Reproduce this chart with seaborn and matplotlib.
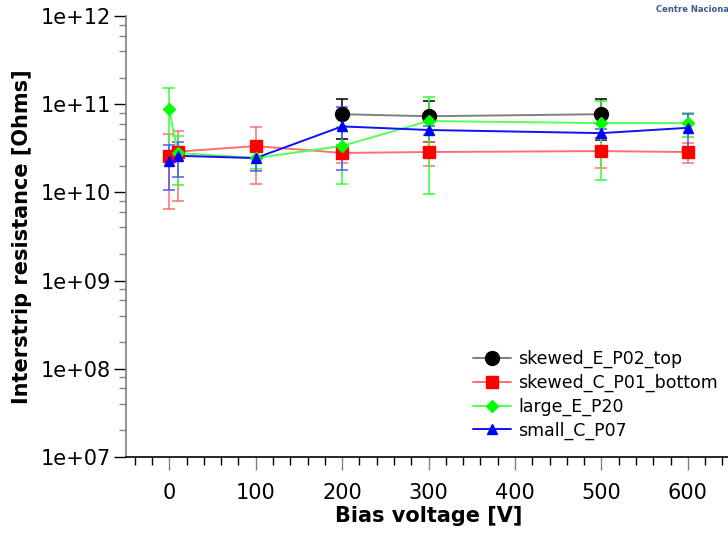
import numpy as np
import pandas as pd
import matplotlib
matplotlib.use("Agg")
import matplotlib.pyplot as plt
import matplotlib.ticker as mticker
import seaborn as sns

# ---- data ----
series_names = ["skewed_E_P02_top", "skewed_C_P01_bottom", "large_E_P20", "small_C_P07"]

black_x = [200, 300, 500]
black_y = [7.7e10, 7.3e10, 7.7e10]
black_err = [3.7e10, 3.6e10, 3.8e10]

red_x = [0, 10, 100, 200, 300, 500, 600]
red_y = [2.6e10, 2.9e10, 3.35e10, 2.8e10, 2.87e10, 2.94e10, 2.87e10]
red_err = [1.95e10, 2.1e10, 2.1e10, 0.65e10, 0.9e10, 1.05e10, 0.72e10]

green_x = [0, 10, 100, 200, 300, 500, 600]
green_y = [8.8e10, 2.8e10, 2.45e10, 3.36e10, 6.45e10, 6.1e10, 6.1e10]
green_err = [6.5e10, 1.6e10, 0.6e10, 2.1e10, 5.5e10, 4.7e10, 1.9e10]

blue_x = [0, 10, 100, 200, 300, 500, 600]
blue_y = [2.27e10, 2.6e10, 2.45e10, 5.6e10, 5.1e10, 4.7e10, 5.4e10]
blue_err = [1.2e10, 1.1e10, 0.7e10, 3.8e10, 0.6e10, 0.6e10, 2.3e10]

x_ticks = [0, 100, 200, 300, 400, 500, 600]
y_ticks = [1e7, 1e8, 1e9, 1e10, 1e11, 1e12]

sns.set_style("ticks")
plt.rcParams["font.family"] = ["DejaVu Sans"]
plt.rcParams["text.color"] = "black"
plt.rcParams["axes.labelcolor"] = "black"
plt.rcParams["xtick.labelcolor"] = "black"
plt.rcParams["ytick.labelcolor"] = "black"

fig = plt.figure(figsize=(7.28, 5.33), dpi=100)
ax = fig.add_axes([126/728, 1-457/533, (731-126)/728, (457-16)/533])

styles = [
    (black_x, black_y, black_err, "o", "black", "#808080", "black", 10, 1.0),
    (red_x, red_y, red_err, "s", "red", "#ff6f6f", "#ff6f6f", 9, 1.0),
    (green_x, green_y, green_err, "D", "#00ff00", "#55ff55", "#33ff33", 6, 1.0),
    (blue_x, blue_y, blue_err, "^", "blue", "#1010ff", "#5555ff", 7.5, 1.0),
]

handles = []
for name, (xs, ys, es, mk, mc, lc, ec, ms, lw) in zip(series_names, styles):
    df = pd.DataFrame({"x": xs, "y": ys})
    ax.errorbar(xs, ys, yerr=es, fmt="none", ecolor=ec, elinewidth=1.1,
                capsize=4, capthick=1.1, zorder=2)
    sns.lineplot(data=df, x="x", y="y", ax=ax, color=lc, linewidth=1.4,
                 marker=None, legend=False, zorder=3, estimator=None, sort=False)
    ax.plot(xs, ys, linestyle="none", marker=mk, markersize=ms, color=mc,
            markeredgecolor=mc, zorder=4)
    h, = ax.plot([], [], color=lc, linewidth=1.4, marker=mk, markersize=ms,
                 markerfacecolor=mc, markeredgecolor=mc, label=name)
    handles.append(h)

ax.set_yscale("log")
ax.set_ylim(1e7, 1e12)
ax.set_xlim(-50, 650)
ax.set_xticks(x_ticks)
ax.set_yticks(y_ticks)
ax.yaxis.set_major_formatter(mticker.FuncFormatter(lambda v, p: "1e+%02d" % int(round(np.log10(v)))))
ax.yaxis.set_minor_locator(mticker.LogLocator(base=10, subs=(2, 4, 6, 8)))
ax.yaxis.set_minor_formatter(mticker.NullFormatter())
ax.xaxis.set_minor_locator(mticker.MultipleLocator(20))

for s in ["top", "right"]:
    ax.spines[s].set_visible(False)
ax.spines["left"].set_color("#808080")
ax.spines["left"].set_linewidth(1.2)
ax.spines["bottom"].set_color("black")
ax.spines["bottom"].set_linewidth(1.2)

ax.tick_params(axis="y", which="major", length=9, width=1, color="black", labelsize=15, pad=2)
ax.tick_params(axis="y", which="minor", length=5, width=1, color="#808080")
ax.tick_params(axis="x", which="major", length=9, width=1, color="#808080", labelsize=15, pad=10)
ax.tick_params(axis="x", which="minor", length=6, width=1, color="black")

ax.set_xlabel("Bias voltage [V]", fontsize=15, fontweight="bold", labelpad=2)
ax.set_ylabel("Interstrip resistance [Ohms]", fontsize=15, fontweight="bold", labelpad=6)

ax.legend(handles=handles, loc="upper left", bbox_to_anchor=((466-126)/605, 1-(343-16)/441),
          frameon=False, fontsize=12.5, handlelength=2.2, handletextpad=0.4,
          labelspacing=0.32, borderaxespad=0)

fig.text(656/728, 1-10/533, "Centre Naciona", fontsize=6, fontweight="bold",
         color="#3a5a8c", va="center", ha="left")

fig.savefig("out.png", dpi=100)
